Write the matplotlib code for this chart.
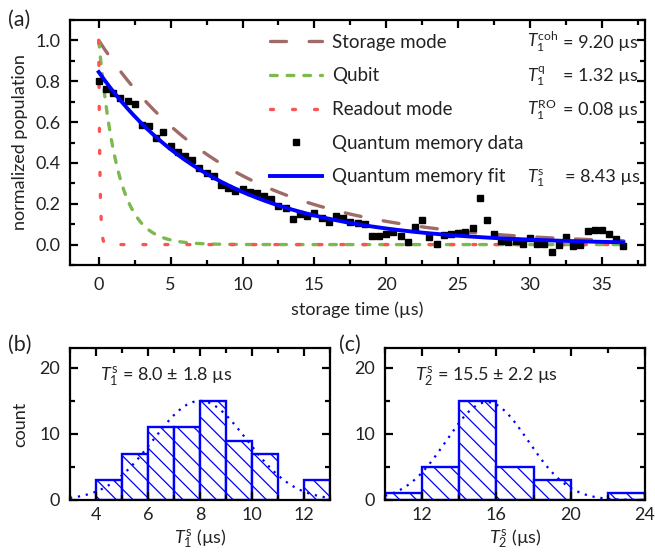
import numpy as np
import matplotlib
matplotlib.use("Agg")
import matplotlib.pyplot as plt
from matplotlib.ticker import MultipleLocator, FormatStrFormatter

# ---------------------------------------------------------------- data
storage_time_us = [
    0.0, 0.5, 1.0, 1.5, 2.0, 2.5, 3.0, 3.5, 4.0, 4.5,
    5.0, 5.5, 6.0, 6.5, 7.0, 7.5, 8.0, 8.5, 9.0, 9.5,
    10.0, 10.5, 11.0, 11.5, 12.0, 12.5, 13.0, 13.5, 14.0, 14.5,
    15.0, 15.5, 16.0, 16.5, 17.0, 17.5, 18.0, 18.5, 19.0, 19.5,
    20.0, 20.5, 21.0, 21.5, 22.0, 22.5, 23.0, 23.5, 24.0, 24.5,
    25.0, 25.5, 26.0, 26.5, 27.0, 27.5, 28.0, 28.5, 29.0, 29.5,
    30.0, 30.5, 31.0, 31.5, 32.0, 32.5, 33.0, 33.5, 34.0, 34.5,
    35.0, 35.5, 36.0, 36.5,
]
memory_population = [
    0.800, 0.763, 0.744, 0.718, 0.705, 0.687, 0.587, 0.582, 0.523, 0.550,
    0.482, 0.453, 0.435, 0.415, 0.376, 0.353, 0.338, 0.292, 0.277, 0.264,
    0.270, 0.257, 0.254, 0.238, 0.223, 0.190, 0.178, 0.127, 0.152, 0.141,
    0.157, 0.128, 0.112, 0.139, 0.128, 0.110, 0.107, 0.100, 0.044, 0.044,
    0.050, 0.062, 0.041, 0.012, 0.087, 0.120, 0.036, 0.004, 0.049, 0.050,
    0.055, 0.060, 0.081, 0.226, 0.118, 0.053, 0.018, 0.013, 0.018, 0.003,
    0.030, 0.003, 0.003, -0.036, -0.003, 0.038, -0.008, -0.003, 0.066, 0.070,
    0.069, 0.052, 0.028, -0.008,
]

# decay constants (µs)
T1_storage = 9.20
T1_qubit = 1.32
T1_readout = 0.08
T1_memory_fit = 8.43
fit_amplitude = 0.845

legend_labels = ["Storage mode", "Qubit", "Readout mode",
                 "Quantum memory data", "Quantum memory fit"]
lifetime_symbols = [r"$T_1^{\mathrm{coh}}$", r"$T_1^{\mathrm{q}}$",
                    r"$T_1^{\mathrm{RO}}$", None, r"$T_1^{\mathrm{s}}$"]
lifetime_values = [T1_storage, T1_qubit, T1_readout, None, T1_memory_fit]

# repeated T1 measurements of the storage mode
t1_bin_edges = [4, 5, 6, 7, 8, 9, 10, 11, 12, 13]
t1_counts = [3, 7, 11, 11, 15, 9, 7, 0, 3]
t1_mean, t1_std, t1_peak = 8.0, 1.8, 15.0

# repeated T2 measurements of the storage mode
t2_bin_edges = [10, 12, 14, 16, 18, 20, 22, 24]
t2_counts = [1, 5, 15, 5, 3, 0, 1]
t2_mean, t2_std, t2_peak = 15.5, 2.2, 14.8

# ---------------------------------------------------------------- style
TEXT = "#222222"
FS_TICK = 13
FS_LABEL = 13
FS_LEGEND = 13.5
FS_PANEL = 15.5
plt.rcParams.update({
    "font.family": ["Lato", "DejaVu Sans"],
    "mathtext.fontset": "custom",
    "mathtext.rm": "Lato",
    "mathtext.it": "Lato:italic",
    "mathtext.bf": "Lato:bold",
    "font.size": FS_LABEL,
    "text.color": TEXT,
    "axes.labelcolor": TEXT,
    "xtick.color": "black",
    "ytick.color": "black",
    "xtick.labelcolor": TEXT,
    "ytick.labelcolor": TEXT,
    "axes.linewidth": 1.6,
    "hatch.linewidth": 0.9,
})

C_STORAGE = "#9e6b66"
C_QUBIT = "#7db950"
C_READOUT = "#ff5252"
C_FIT = "#0000ff"


def style_axes(ax, xmaj, xmin, ymaj, ymin, xpad, ypad):
    ax.xaxis.set_major_locator(MultipleLocator(xmaj))
    ax.xaxis.set_minor_locator(MultipleLocator(xmin))
    ax.yaxis.set_major_locator(MultipleLocator(ymaj))
    ax.yaxis.set_minor_locator(MultipleLocator(ymin))
    ax.tick_params(which="both", direction="in", top=True, right=True,
                   width=1.6, labelsize=FS_TICK)
    ax.tick_params(which="major", length=5.5)
    ax.tick_params(which="minor", length=3.5)
    ax.tick_params(axis="x", pad=xpad)
    ax.tick_params(axis="y", pad=ypad)


fig = plt.figure(figsize=(6.55, 5.52), dpi=100)
W, H = 655.0, 552.0

# ---------------------------------------------------------------- (a)
ax = fig.add_axes([70 / W, 1 - 265 / H, 575 / W, 245 / H])
t_end = storage_time_us[-1]
t_dense = np.concatenate([np.linspace(0, 1.0, 500), np.linspace(1.0, t_end, 700)[1:]])

lw_curve = 2.4
ax.plot(t_dense, np.exp(-t_dense / T1_storage), color=C_STORAGE, lw=lw_curve,
        dashes=(4.8, 6.8), dash_capstyle="round", label=legend_labels[0])
ax.plot(t_dense, np.exp(-t_dense / T1_qubit), color=C_QUBIT, lw=lw_curve,
        dashes=(2.0, 3.0), dash_capstyle="round", label=legend_labels[1])
ax.plot(t_dense, np.exp(-t_dense / T1_readout), color=C_READOUT, lw=lw_curve,
        dashes=(0.9, 5.7), dash_capstyle="round", label=legend_labels[2])
ax.plot(storage_time_us, memory_population, ls="none", marker="s", ms=5.0,
        color="black", label=legend_labels[3])
ax.plot(t_dense, fit_amplitude * np.exp(-t_dense / T1_memory_fit), color=C_FIT,
        lw=2.8, label=legend_labels[4])

ax.set_xlim(-2, 38)
ax.set_ylim(-0.1, 1.1)
style_axes(ax, 5, 2.5, 0.2, 0.1, xpad=9, ypad=7)
ax.yaxis.set_major_formatter(FormatStrFormatter("%.1f"))
ax.set_xlabel("storage time (µs)", fontsize=FS_LABEL, labelpad=6)
ax.set_ylabel("normalized population", fontsize=FS_LABEL, labelpad=5)

leg = ax.legend(loc="upper left", bbox_to_anchor=(0.348, 0.944), frameon=False,
                fontsize=FS_LEGEND, handlelength=2.77, handletextpad=0.53,
                labelspacing=0.89, borderpad=0, borderaxespad=0, numpoints=1)

# lifetimes written beside the legend rows, on the same baselines
fig.canvas.draw()
to_axes = ax.transAxes.inverted()
for txt, sym, val in zip(leg.get_texts(), lifetime_symbols, lifetime_values):
    if sym is None:
        continue
    base_y = to_axes.transform(txt.get_transform().transform((0, 0)))[1]
    ax.text(0.795, base_y, sym, transform=ax.transAxes, va="baseline",
            ha="left", fontsize=12.5)
    eq_x = 0.861 if sym.endswith("s}}$") else 0.857
    ax.text(eq_x, base_y, f"= {val:.2f} µs", transform=ax.transAxes,
            va="baseline", ha="left", fontsize=13)

fig.text(8 / W, 1 - 20 / H, "(a)", fontsize=FS_PANEL, va="center", ha="left")


# ---------------------------------------------------------------- (b), (c)
def histogram_panel(rect, edges, counts, mean, std, peak, xlim, xmaj, xmin,
                    xlabel, note, note_x):
    hx = fig.add_axes(rect)
    edges = np.asarray(edges, float)
    counts = np.asarray(counts, float)
    keep = counts > 0
    hx.bar(edges[:-1][keep], counts[keep], width=np.diff(edges)[keep],
           align="edge", facecolor="white", edgecolor=C_FIT, lw=1.7,
           hatch="\\\\", zorder=1)
    xs = np.linspace(xlim[0], xlim[1], 400)
    hx.plot(xs, peak * np.exp(-(xs - mean) ** 2 / (2 * std ** 2)), color=C_FIT,
            lw=1.6, ls=(0, (1.0, 2.6)), zorder=2)
    hx.set_xlim(*xlim)
    hx.set_ylim(0, 23)
    style_axes(hx, xmaj, xmin, 10, 5, xpad=5, ypad=7)
    hx.set_xlabel(xlabel, fontsize=FS_LABEL, labelpad=3)
    hx.text(note_x, 17.9, note, fontsize=FS_LABEL, va="baseline", ha="left")
    return hx


bx = histogram_panel([70 / W, 1 - 500 / H, 260 / W, 152 / H], t1_bin_edges,
                     t1_counts, t1_mean, t1_std, t1_peak, (3, 13), 2, 1,
                     r"$T_1^{\mathrm{s}}$ (µs)",
                     rf"$T_1^{{\mathrm{{s}}}}$ = {t1_mean:.1f} ± {t1_std:.1f} µs", 4.15)
bx.set_ylabel("count", fontsize=FS_LABEL, labelpad=8)

cx = histogram_panel([385 / W, 1 - 500 / H, 260 / W, 152 / H], t2_bin_edges,
                     t2_counts, t2_mean, t2_std, t2_peak, (10, 24), 4, 2,
                     r"$T_2^{\mathrm{s}}$ (µs)",
                     rf"$T_2^{{\mathrm{{s}}}}$ = {t2_mean:.1f} ± {t2_std:.1f} µs", 11.6)

fig.text(8 / W, 1 - 345 / H, "(b)", fontsize=FS_PANEL, va="center", ha="left")
fig.text(339 / W, 1 - 345 / H, "(c)", fontsize=FS_PANEL, va="center", ha="left")

fig.savefig("out.png", dpi=100)
